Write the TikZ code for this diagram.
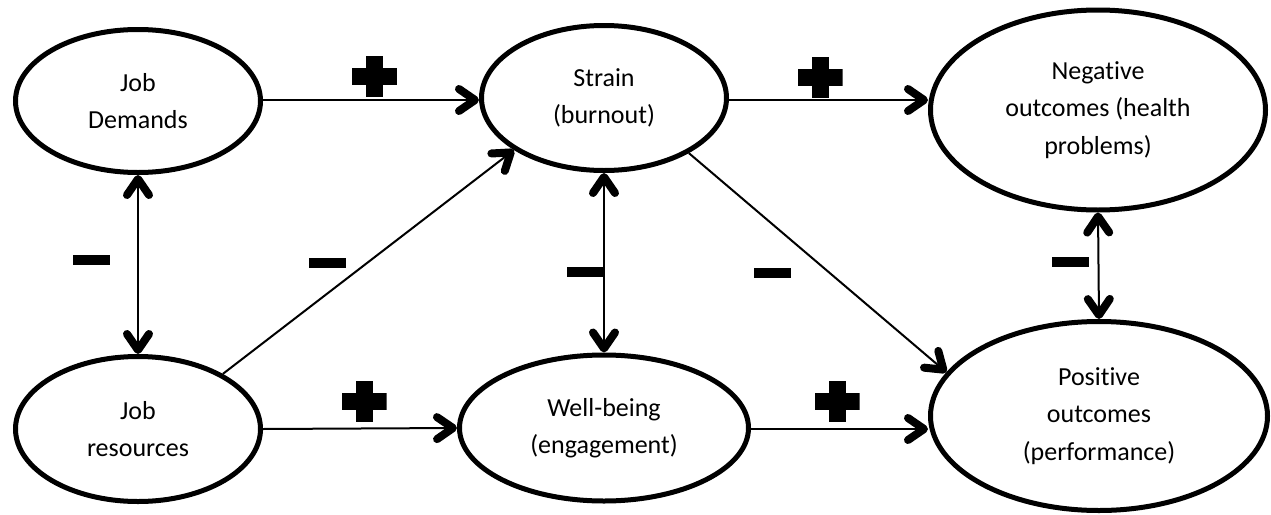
\documentclass[tikz,border=0pt]{standalone}
\usepackage{fontspec}
\setmainfont{Carlito}[Ligatures=CommonOff]
\usetikzlibrary{shapes.geometric,arrows.meta}
\begin{document}
\begin{tikzpicture}[x=1pt,y=-1pt,
  factor/.style={ellipse,draw,line width=5pt,inner sep=0pt,align=center,
    font=\fontsize{26}{37.5}\selectfont},
  link/.style={line width=2pt,-{Straight Barb[length=16pt,width=22pt,line width=8pt,round]}},
  duallink/.style={line width=2pt,{Straight Barb[length=16pt,width=22pt,line width=8pt,round]}-{Straight Barb[length=16pt,width=22pt,line width=8pt,round]}},
  plussign/.style={inner sep=0pt,minimum width=45pt,minimum height=41pt,
    path picture={\fill[black] ([xshift=-22.5pt,yshift=-8.5pt]path picture bounding box.center) rectangle ([xshift=22.5pt,yshift=8.5pt]path picture bounding box.center);
    \fill[black] ([xshift=-8.5pt,yshift=-20.5pt]path picture bounding box.center) rectangle ([xshift=8.5pt,yshift=20.5pt]path picture bounding box.center);}},
  minussign/.style={inner sep=0pt,minimum width=37pt,minimum height=10pt,fill=black}
]
\useasboundingbox (0,0) rectangle (1271,514);
\node[factor,minimum width=245pt,minimum height=143pt] (jd) at (138,101) {Job\\Demands};
\node[factor,minimum width=245pt,minimum height=145pt] (strain) at (604,98) {Strain\\(burnout)};
\node[factor,minimum width=335pt,minimum height=200pt] (neg) at (1098,110) {Negative\\outcomes (health\\problems)};
\node[factor,minimum width=245pt,minimum height=145pt] (jr) at (138,429) {Job\\resources};
\node[factor,minimum width=289pt,minimum height=146pt] (wb) at (604,428) {Well-being\\(engagement)};
\node[factor,minimum width=337pt,minimum height=189pt] (pos) at (1099,416) {Positive\\outcomes\\(performance)};

\draw[link] (jd.east |- 0,100) -- (strain.west |- 0,100);
\draw[link] (strain.east |- 0,100) -- (neg.west |- 0,100);
\draw[duallink] (jd.south) -- (jr.north);
\draw[link] (jr.33) -- (strain.210);
\draw[link] (jr.east) -- (wb.west);
\draw[duallink] (strain.south) -- (wb.north);
\draw[link] (strain.-33) -- (pos.164);
\draw[link] (wb.east |- 0,429) -- (pos.west |- 0,429);
\draw[duallink] (neg.south) -- (pos.north);

\node[plussign] (p1) at (374.7,76.3) {};
\node[plussign] (p2) at (820,77) {};
\node[plussign] (p3) at (364,401) {};
\node[plussign] (p4) at (837,401) {};
\node[minussign] (m1) at (91,260) {};
\node[minussign] (m2) at (327,263) {};
\node[minussign] (m3) at (585,272) {};
\node[minussign] (m4) at (772,273) {};
\node[minussign] (m5) at (1070,262) {};
\end{tikzpicture}
\end{document}
